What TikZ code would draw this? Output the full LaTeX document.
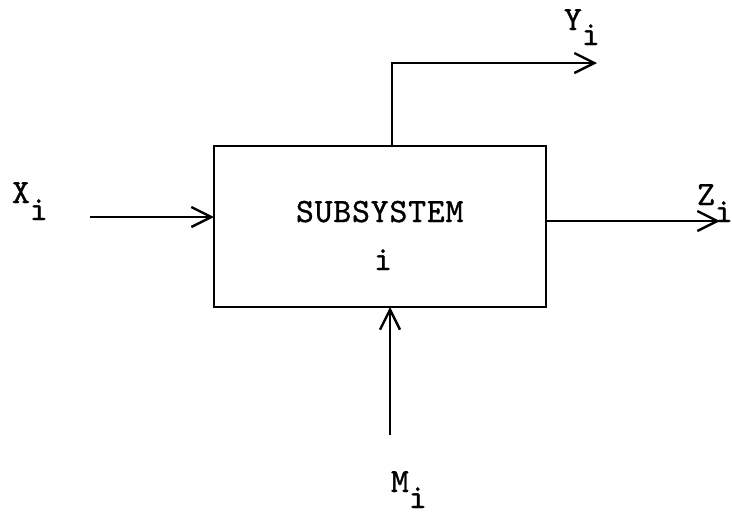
\documentclass[tikz,border=0pt]{standalone}
\usepackage{fontspec}
\usetikzlibrary{arrows.meta}
\newfontfamily\twfam{lmmono10-regular.otf}[LetterSpace=2.5,FakeBold=1]
\newcommand{\tw}{\twfam\fontsize{34}{34}\selectfont}
\tikzset{
  conn/.style={line width=2.7pt, draw=black},
  arr/.style={conn, -{Straight Barb[length=20pt,width=20pt,line width=2.4pt]}},
  lbl/.style={anchor=base west, inner sep=0pt, outer sep=0pt, font=\tw},
  boxst/.style={draw=black, line width=2.7pt, minimum width=332pt, minimum height=161pt, inner sep=0pt, outer sep=0pt},
}
\newcommand{\sbi}[2]{#1\raisebox{-#2pt}{i}}
\begin{document}
\begin{tikzpicture}[x=1pt,y=-1pt]
\useasboundingbox (0,0) rectangle (732,517);
\node[boxst] (sub) at (380,226.5) {};
\node[lbl, anchor=base west] (t1) at (296,222) {SUBSYSTEM};
\node[lbl, anchor=base] (t2) at (383,270) {i};
% labels
\node[lbl] (xl) at (12,203) {\sbi{X}{17}};
\node[lbl] (yl) at (564,30) {\sbi{Y}{15}};
\node[lbl] (zl) at (697,205) {\sbi{Z}{17}};
\node[lbl] (ml) at (391,492) {\sbi{M}{16}};
% connectors
\coordinate (xs) at (90,217);
\draw[arr] (xs) -- (xs -| sub.west);
\coordinate (yc) at (392,63);
\coordinate (ye) at (597,63);
\draw[arr] (yc |- sub.north) -- (yc) -- (ye);
\coordinate (ze) at (720,221);
\draw[arr] (ze -| sub.east) -- (ze);
\coordinate (ms) at (390,435);
\draw[arr] (ms) -- (ms |- sub.south);
\end{tikzpicture}
\end{document}
